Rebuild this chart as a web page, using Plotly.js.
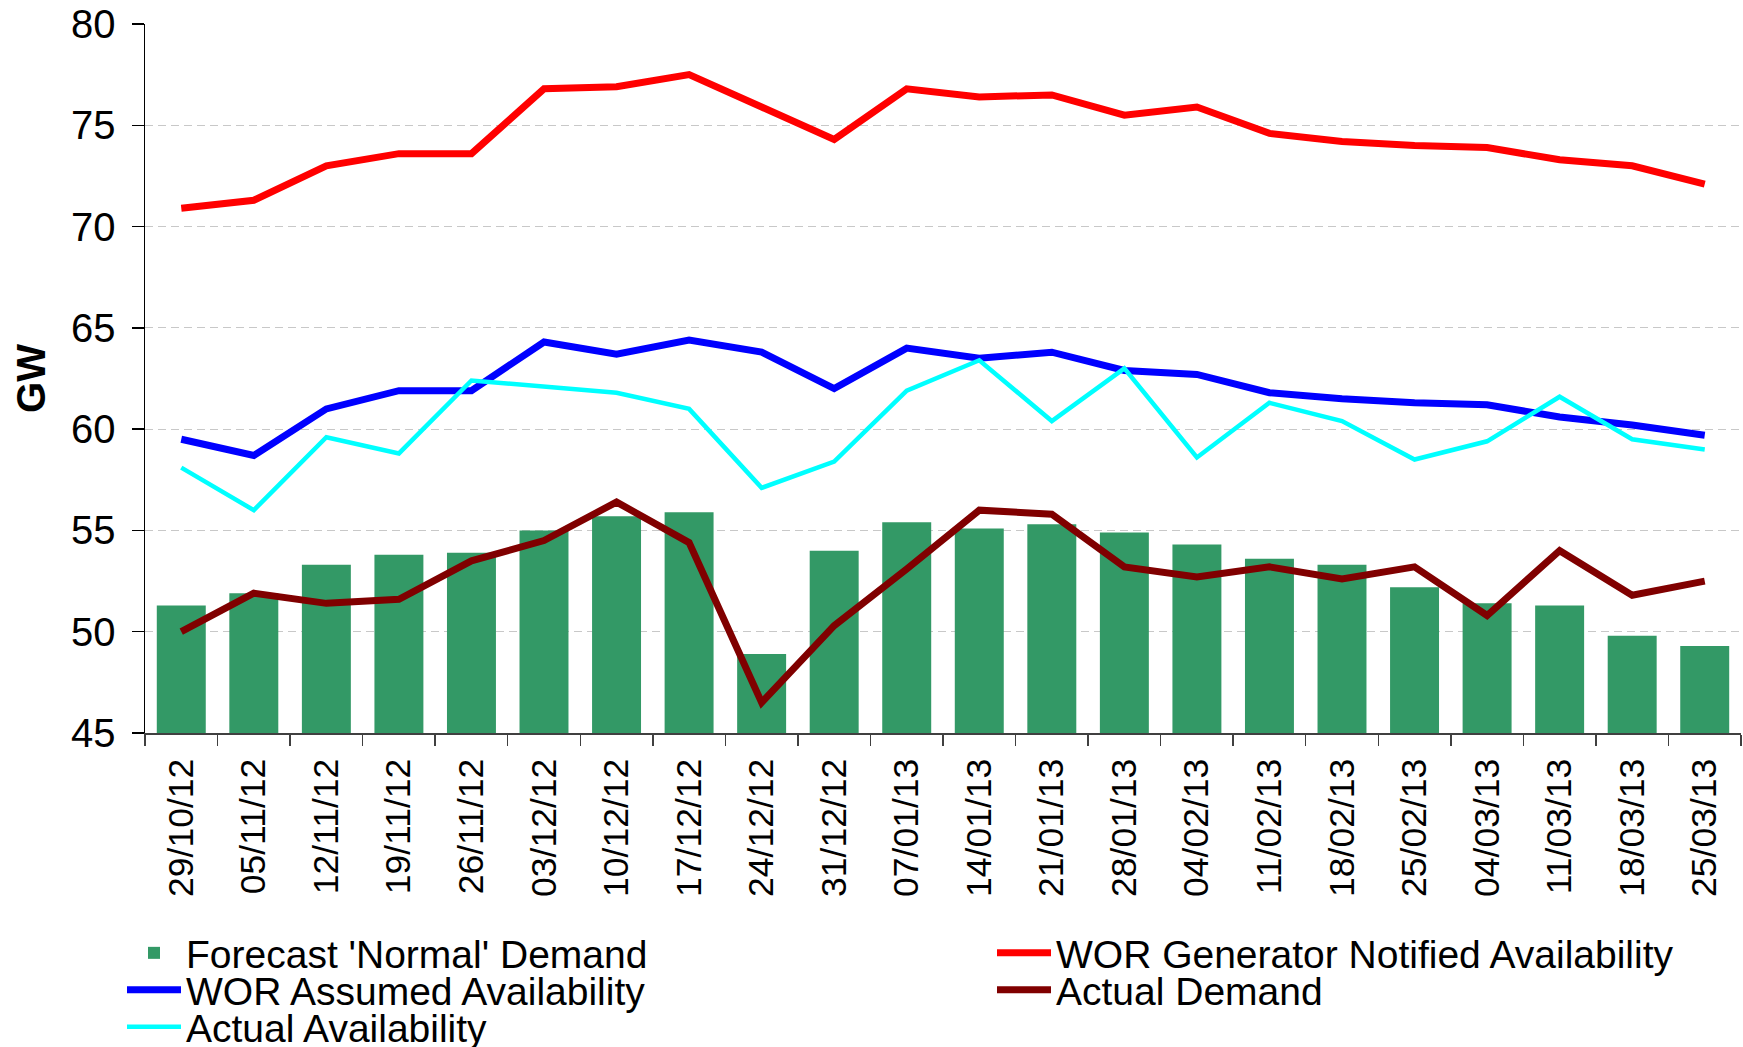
<!DOCTYPE html>
<html>
<head>
<meta charset="utf-8">
<script src="https://cdn.plot.ly/plotly-3.0.1.min.js"></script>
<style>
  html, body { margin: 0; padding: 0; background: #ffffff; }
  #chart { width: 1743px; height: 1047px; }
</style>
</head>
<body>
<div id="chart"></div>
<script>
// ---- Data (GW), weekly ----
var weeks = ["29/10/12","05/11/12","12/11/12","19/11/12","26/11/12","03/12/12","10/12/12","17/12/12",
             "24/12/12","31/12/12","07/01/13","14/01/13","21/01/13","28/01/13","04/02/13","11/02/13",
             "18/02/13","25/02/13","04/03/13","11/03/13","18/03/13","25/03/13"];

var forecastNormalDemand = [51.3, 51.9, 53.3, 53.8, 53.9, 55.0, 55.7, 55.9, 48.9, 54.0, 55.4, 55.1,
                            55.3, 54.9, 54.3, 53.6, 53.3, 52.2, 51.4, 51.3, 49.8, 49.3];

var worGeneratorNotified = [70.9, 71.3, 73.0, 73.6, 73.6, 76.8, 76.9, 77.5, 75.9, 74.3, 76.8, 76.4,
                            76.5, 75.5, 75.9, 74.6, 74.2, 74.0, 73.9, 73.3, 73.0, 72.1];

var worAssumed = [59.5, 58.7, 61.0, 61.9, 61.9, 64.3, 63.7, 64.4, 63.8, 62.0, 64.0, 63.5,
                  63.8, 62.9, 62.7, 61.8, 61.5, 61.3, 61.2, 60.6, 60.2, 59.7];

var actualDemand = [50.0, 51.9, 51.4, 51.6, 53.5, 54.5, 56.4, 54.4, 46.5, 50.3, 53.1, 56.0,
                    55.8, 53.2, 52.7, 53.2, 52.6, 53.2, 50.8, 54.0, 51.8, 52.5];

var actualAvailability = [58.1, 56.0, 59.6, 58.8, 62.4, 62.1, 61.8, 61.0, 57.1, 58.4, 61.9, 63.4,
                          60.4, 63.0, 58.6, 61.3, 60.4, 58.5, 59.4, 61.6, 59.5, 59.0];

var seriesNames = ["Forecast 'Normal' Demand", "WOR Generator Notified Availability",
                   "WOR Assumed Availability", "Actual Demand", "Actual Availability"];

var yTicks = [45, 50, 55, 60, 65, 70, 75, 80];

// ---- Traces ----
var traces = [
  {
    type: 'bar', x: weeks, y: forecastNormalDemand, name: seriesNames[0],
    marker: { color: '#339966' }, legend: 'legend'
  },
  {
    type: 'scatter', mode: 'lines', x: weeks, y: worGeneratorNotified, name: seriesNames[1],
    line: { color: '#ff0000', width: 7 }, legend: 'legend2'
  },
  {
    type: 'scatter', mode: 'lines', x: weeks, y: worAssumed, name: seriesNames[2],
    line: { color: '#0000ff', width: 7 }, legend: 'legend3'
  },
  {
    type: 'scatter', mode: 'lines', x: weeks, y: actualDemand, name: seriesNames[3],
    line: { color: '#800000', width: 7 }, legend: 'legend4'
  },
  {
    type: 'scatter', mode: 'lines', x: weeks, y: actualAvailability, name: seriesNames[4],
    line: { color: '#00ffff', width: 4.5 }, legend: 'legend5'
  }
];

var FONT = 'Liberation Sans, Arial, sans-serif';
var legendFont = { family: FONT, size: 39, color: '#000000' };
function legendAt(xPix, yPix) {
  return {
    orientation: 'h', xref: 'container', yref: 'container',
    x: xPix / 1743, xanchor: 'left',
    y: 1 - yPix / 1047, yanchor: 'middle',
    itemwidth: 54, font: legendFont,
    bgcolor: 'rgba(0,0,0,0)', borderwidth: 0,
    itemclick: false, itemdoubleclick: false
  };
}

var layout = {
  width: 1743, height: 1047,
  paper_bgcolor: '#ffffff', plot_bgcolor: '#ffffff',
  margin: { l: 145, r: 2, t: 24, b: 314, pad: 0, autoexpand: false },
  font: { family: FONT, color: '#000000' },
  bargap: 0.325,
  showlegend: true,
  legend: legendAt(122, 953),
  legend2: legendAt(992, 953),
  legend3: legendAt(122, 990),
  legend4: legendAt(992, 990),
  legend5: legendAt(122, 1027),
  xaxis: {
    type: 'category',
    tickson: 'boundaries',
    ticks: 'outside', ticklen: 11, tickwidth: 1.5, tickcolor: '#404040',
    showline: true, linecolor: '#404040', linewidth: 1.5,
    showgrid: false, zeroline: false,
    tickangle: -90,
    tickfont: { family: FONT, size: 35.5, color: '#000000' },
    ticklabelstandoff: 10,
    automargin: false, fixedrange: true
  },
  yaxis: {
    range: [45, 80], tickvals: yTicks, ticktext: yTicks.map(String),
    ticks: 'outside', ticklen: 12, tickwidth: 1.5, tickcolor: '#000000',
    showline: true, linecolor: '#000000', linewidth: 1.5,
    showgrid: true, gridcolor: '#c8c8c8', gridwidth: 1, griddash: '8px,5px',
    zeroline: false,
    tickfont: { family: FONT, size: 40, color: '#000000' },
    ticklabelstandoff: 8,
    title: { text: '<b>GW</b>', font: { family: FONT, size: 40, color: '#000000' }, standoff: 13 },
    automargin: false, fixedrange: true
  }
};

Plotly.newPlot('chart', traces, layout, { displayModeBar: false, staticPlot: true });
</script>
</body>
</html>
